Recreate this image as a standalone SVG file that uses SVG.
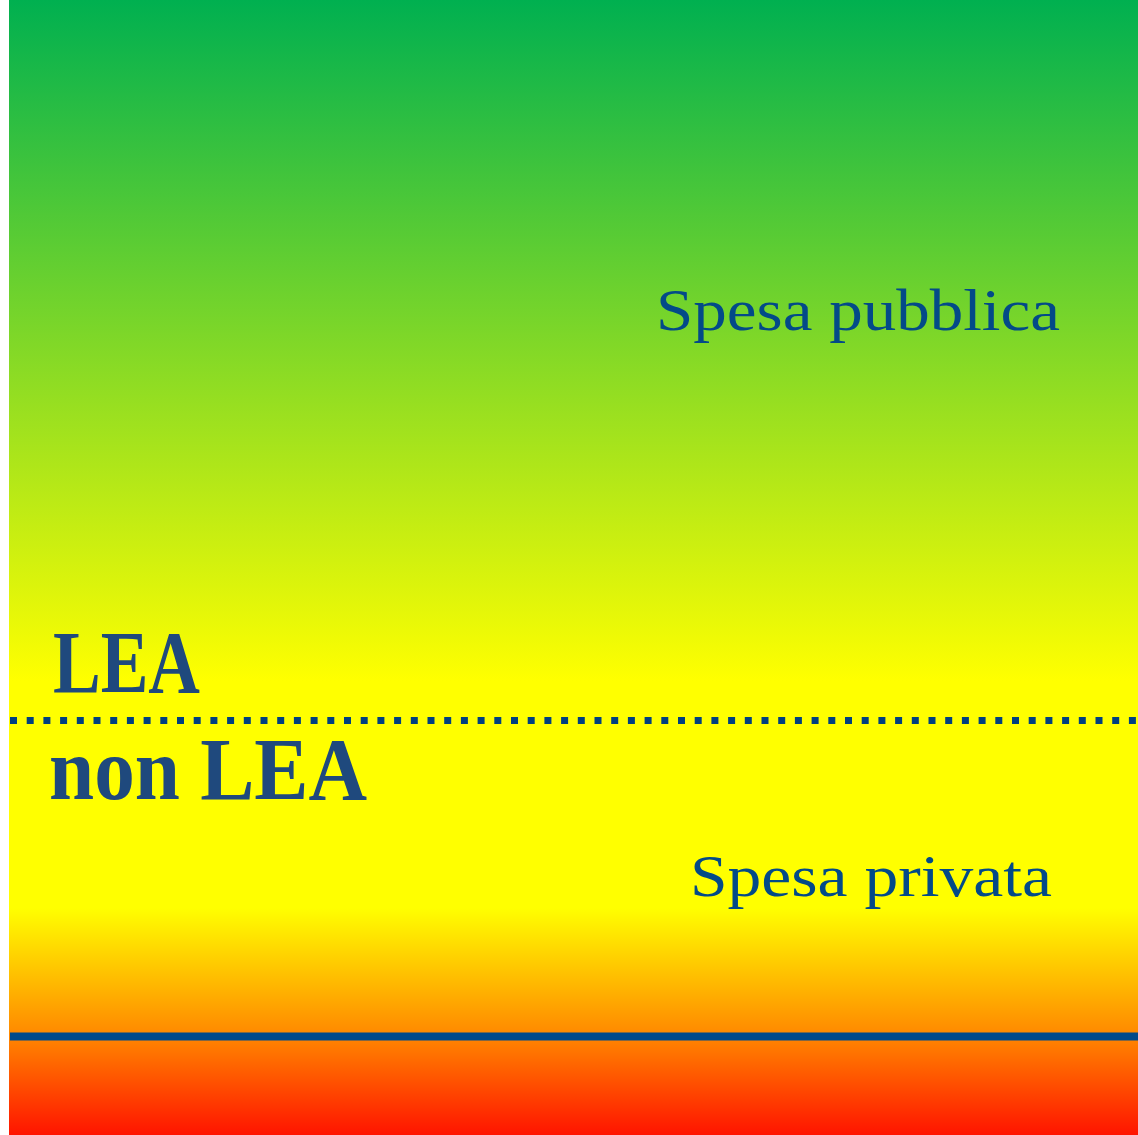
<svg xmlns="http://www.w3.org/2000/svg" width="1138" height="1135" viewBox="0 0 1138 1135">
<defs>
<linearGradient id="bg" x1="0" y1="0" x2="0" y2="1135" gradientUnits="userSpaceOnUse">
<stop offset="0" stop-color="#00B050"/>
<stop offset="0.6" stop-color="#FFFF00"/>
<stop offset="0.8" stop-color="#FFFF00"/>
<stop offset="0.91" stop-color="#FF8A00"/>
<stop offset="1" stop-color="#FF1400"/>
</linearGradient>
<style>
.big{font-family:"Liberation Serif","DejaVu Serif",serif;font-weight:bold;font-size:88px;fill:#1F497D}
.lbl{font-family:"Liberation Serif","DejaVu Serif",serif;font-size:60px;fill:#034A88}
</style>
</defs>
<rect x="0" y="0" width="1138" height="1135" fill="#FFFFFF"/>
<rect x="9" y="0" width="1129" height="1135" fill="url(#bg)"/>
<g id="connectors">
<line x1="10" y1="720.5" x2="1138" y2="720.5" stroke="#004080" stroke-width="7" stroke-dasharray="7 9.7"/>
<line x1="10" y1="1036.5" x2="1138" y2="1036.5" stroke="#004A8A" stroke-width="8"/>
</g>
<g id="lea"><text class="big" x="53" y="692" textLength="147" lengthAdjust="spacingAndGlyphs">LEA</text></g>
<g id="nonlea"><text class="big" x="49" y="799" textLength="318" lengthAdjust="spacingAndGlyphs">non LEA</text></g>
<g id="pubblica"><text class="lbl" x="656" y="330" textLength="404" lengthAdjust="spacingAndGlyphs">Spesa pubblica</text></g>
<g id="privata"><text class="lbl" x="690" y="896" textLength="362" lengthAdjust="spacingAndGlyphs">Spesa privata</text></g>
</svg>
